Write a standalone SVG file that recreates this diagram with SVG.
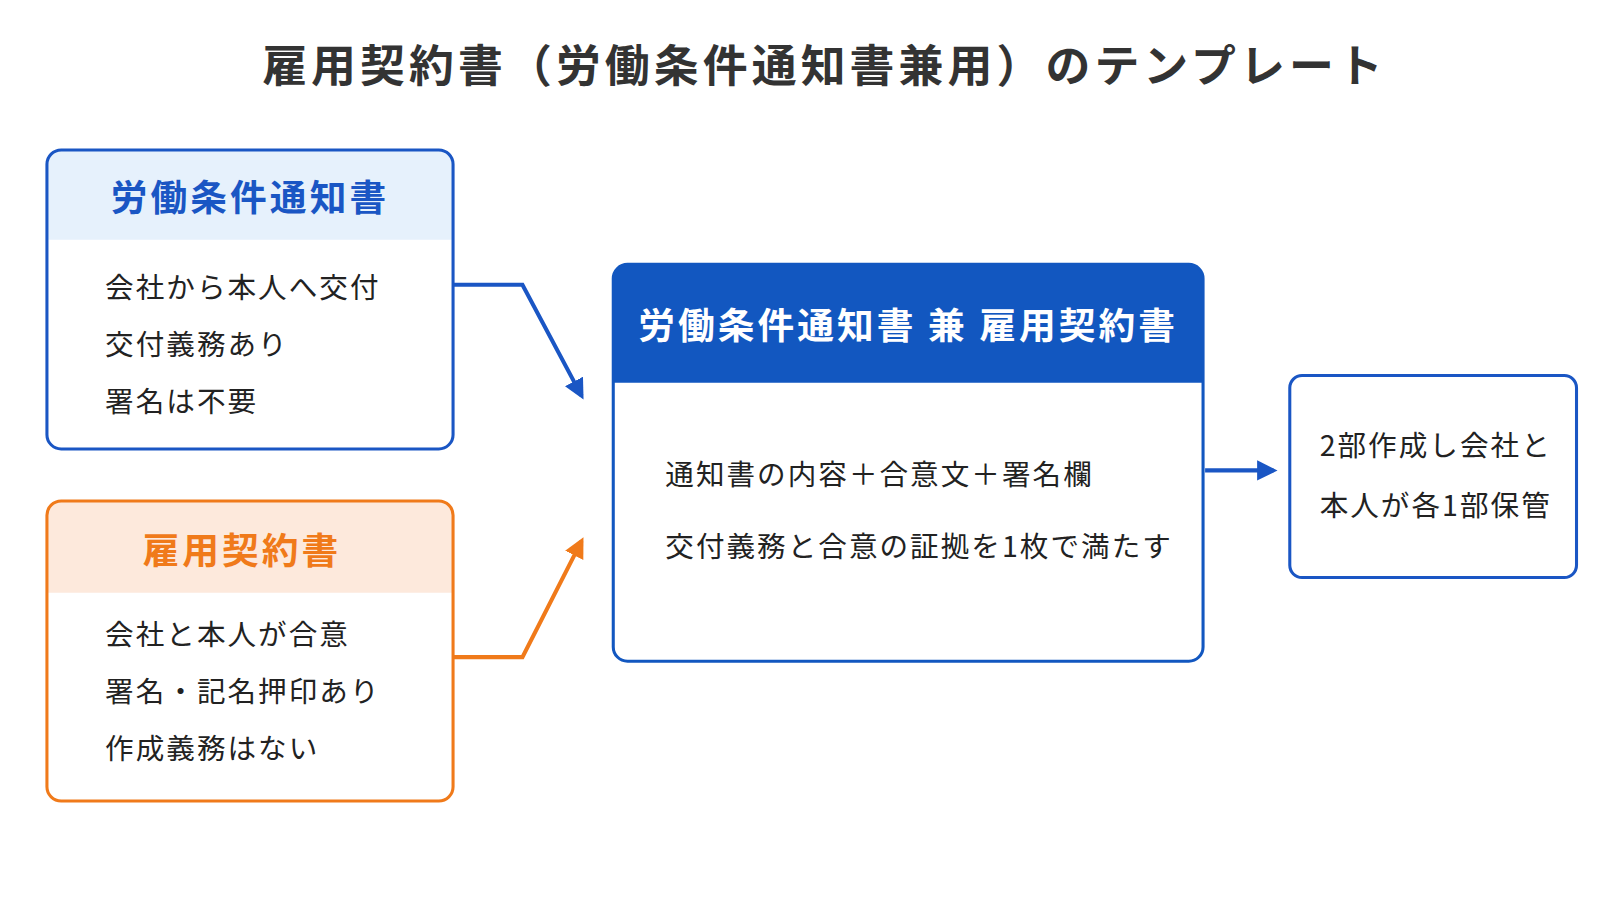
<svg xmlns="http://www.w3.org/2000/svg" width="1600" height="900" viewBox="0 0 1600 900">
<style>
text{font-family:"Noto Sans CJK JP","Noto Sans",sans-serif;}
.t{font-size:28px;fill:#222;letter-spacing:2px}
.h{font-size:36px;font-weight:bold;letter-spacing:3px}
</style>
<defs>
<marker id="ab" viewBox="0 0 10 10" refX="8" refY="5" markerWidth="5" markerHeight="5" orient="auto"><path d="M0,0L10,5L0,10z" fill="#1a56c4"/></marker>
<marker id="ao" viewBox="0 0 10 10" refX="8" refY="5" markerWidth="5" markerHeight="5" orient="auto"><path d="M0,0L10,5L0,10z" fill="#f07a1a"/></marker>
</defs>
<rect width="1600" height="900" fill="#fff"/>
<g transform="scale(1.0204)">
<text x="808" y="80" text-anchor="middle" font-size="44" font-weight="bold" fill="#333" letter-spacing="4">雇用契約書（労働条件通知書兼用）のテンプレート</text>
<g id="notice">
<path d="M60,147H430a14,14 0 0 1 14,14V235H46V161a14,14 0 0 1 14-14z" fill="#e6f1fc"/>
<rect x="46" y="147" width="398" height="293" rx="14" fill="none" stroke="#1a56c4" stroke-width="3"/>
<text x="245" y="207" text-anchor="middle" class="h" fill="#1a56c4">労働条件通知書</text>
<text x="103" y="292" class="t">会社から本人へ交付</text>
<text x="103" y="348" class="t">交付義務あり</text>
<text x="103" y="404" class="t">署名は不要</text>
</g>
<g id="contract">
<path d="M60,491H430a14,14 0 0 1 14,14V581H46V505a14,14 0 0 1 14-14z" fill="#fde9dc"/>
<rect x="46" y="491" width="398" height="294" rx="14" fill="none" stroke="#f07a1a" stroke-width="3"/>
<text x="237" y="553" text-anchor="middle" class="h" fill="#f07a1a">雇用契約書</text>
<text x="103" y="632" class="t">会社と本人が合意</text>
<text x="103" y="688" class="t">署名・記名押印あり</text>
<text x="103" y="744" class="t">作成義務はない</text>
</g>
<g id="combined">
<path d="M615,259H1165a14,14 0 0 1 14,14V375H601V273a14,14 0 0 1 14-14z" fill="#1257c0"/>
<rect x="601" y="259" width="578" height="389" rx="14" fill="none" stroke="#1257c0" stroke-width="3"/>
<text x="890" y="332" text-anchor="middle" class="h" fill="#fff" letter-spacing="1">労働条件通知書 兼 雇用契約書</text>
<text x="652" y="475" class="t">通知書の内容＋合意文＋署名欄</text>
<text x="652" y="546" class="t">交付義務と合意の証拠を1枚で満たす</text>
</g>
<g id="keep">
<rect x="1264" y="368" width="281" height="198" rx="12" fill="none" stroke="#1a56c4" stroke-width="3"/>
<text x="1407" y="447" text-anchor="middle" class="t">2部作成し会社と</text>
<text x="1407" y="506" text-anchor="middle" class="t">本人が各1部保管</text>
</g>
<g id="connectors" fill="none" stroke-width="4">
<polyline points="444,279 512,279 570,388" stroke="#1a56c4" marker-end="url(#ab)"/>
<polyline points="444,644 512,644 570,530" stroke="#f07a1a" marker-end="url(#ao)"/>
<line x1="1181" y1="461" x2="1248" y2="461" stroke="#1a56c4" marker-end="url(#ab)"/>
</g>
</g>
</svg>
